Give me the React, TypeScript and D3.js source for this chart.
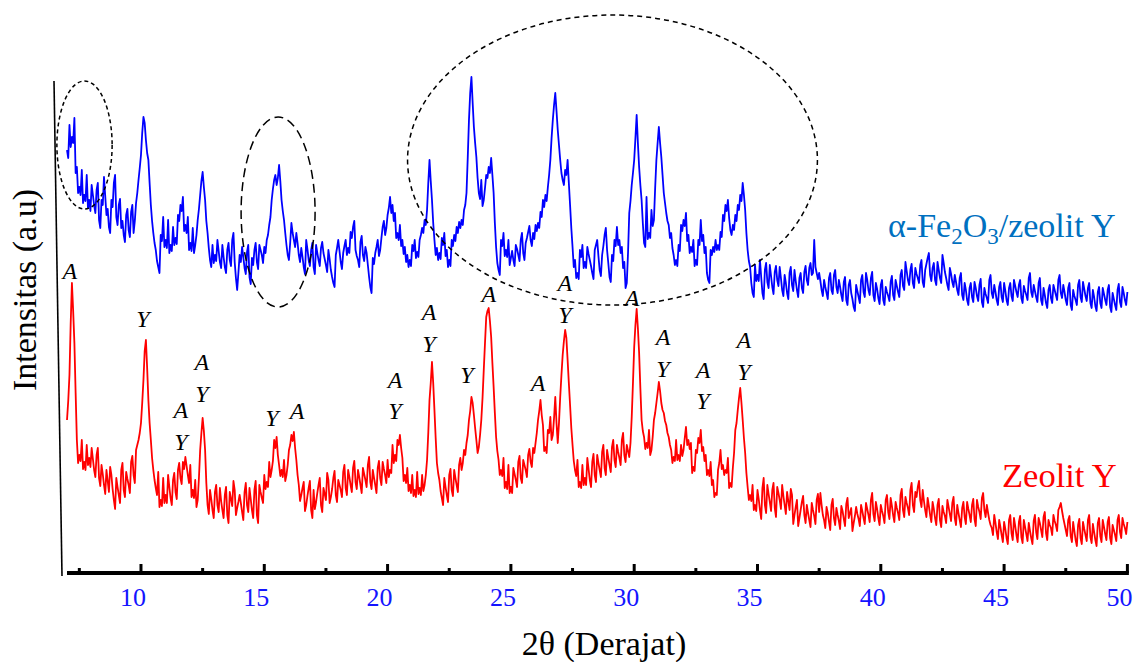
import React from 'react';
import * as d3 from 'd3';

// XRD scan grid (2θ, degrees): 7.00° to 50.00° in 0.05° steps
const scanStart = 7.0;
const scanStep = 0.05;

// Zeolit Y intensities (a.u.) read at 7.0, 7.1, ... 50.0
const zeolitY = [
  153,198,290,230,133,118,133,111,128,115,
  125,103,118,95,108,88,103,81,98,73,
  95,78,103,83,101,88,111,98,123,133,
  150,193,233,173,133,103,85,101,73,95,
  78,98,75,93,81,103,95,111,116,98,
  108,83,93,73,123,155,123,68,83,63,
  81,68,85,63,78,58,81,67,83,65,
  78,61,81,68,85,63,83,58,88,75,
  98,91,111,103,133,136,108,103,113,98,
  123,138,141,113,88,78,91,68,85,63,
  83,71,88,68,85,73,93,76,95,78,
  93,83,101,85,103,88,105,91,103,88,
  105,93,108,91,103,88,105,95,111,98,
  113,103,128,118,133,138,115,98,105,88,
  98,83,101,85,98,88,113,173,211,163,
  110,93,75,95,78,98,83,103,88,108,
  103,123,130,153,176,158,133,126,153,203,
  256,265,236,186,136,113,103,115,91,108,
  86,105,93,111,95,113,103,118,111,125,
  130,153,173,148,126,143,156,138,176,130,
  176,218,243,213,168,128,103,113,91,108,
  95,115,93,111,98,118,103,121,105,123,
  108,126,113,128,115,133,118,128,116,156,
  226,264,220,153,136,130,143,123,153,170,
  191,170,160,148,136,123,116,133,118,128,
  123,146,133,130,106,123,135,143,126,118,
  103,111,93,80,103,123,108,103,115,90,
  105,143,163,185,153,120,86,78,88,68,
  83,63,85,68,88,71,83,65,86,73,
  88,68,81,63,78,58,73,55,71,58,
  68,53,70,57,73,61,68,53,66,51,
  68,55,65,52,67,54,69,55,65,50,
  66,54,68,55,70,58,73,59,71,55,
  68,57,73,61,75,58,71,60,78,63,
  76,65,83,68,81,86,73,83,63,75,
  58,71,55,68,53,67,57,73,59,70,
  55,68,53,65,56,71,58,68,54,73,
  61,75,63,68,53,45,58,41,53,38,
  51,35,53,40,55,38,51,36,53,39,
  50,35,52,41,55,43,56,40,53,45,
  58,48,63,70,55,43,53,37,51,33,
  48,35,51,38,53,36,49,33,50,37,
  53,39,51,35,48,38,53,41,55,45,
  51,
];
// Zeolit Y intensities read at 7.05, 7.15, ... 49.95
const zeolitYMid = [
  172,250,262,180,110,112,104,103,108,106,
  114,96,125,87,99,79,92,106,84,64,
  86,70,110,76,94,80,117,90,128,140,
  170,222,205,150,115,93,78,66,67,70,
  70,86,68,100,74,110,89,104,107,90,
  76,75,66,95,140,142,90,59,74,55,
  88,61,72,55,86,50,74,92,58,71,
  70,53,90,61,74,55,92,50,81,70,
  84,86,96,112,125,118,97,96,92,108,
  128,132,125,98,72,85,62,77,92,55,
  64,80,95,61,79,100,70,84,102,71,
  88,76,108,78,96,81,112,84,96,80,
  99,86,116,84,95,80,112,88,104,90,
  96,100,110,112,128,125,92,90,82,80,
  77,76,79,78,82,98,140,190,190,135,
  100,82,68,86,71,104,77,95,81,115,
  110,118,138,162,170,145,120,138,175,230,
  262,252,210,160,122,98,97,85,84,80,
  80,99,86,117,90,108,96,124,106,120,
  140,162,158,122,120,140,133,155,150,150,
  198,232,235,190,145,112,97,86,85,88,
  88,104,86,119,91,110,96,128,98,115,
  101,133,106,121,108,140,111,122,130,190,
  248,245,185,142,124,125,118,136,160,180,
  182,163,152,140,128,110,112,113,112,117,
  135,128,124,100,102,120,130,122,112,98,
  97,88,76,78,110,104,98,100,85,86,
  120,150,175,170,135,100,73,72,63,62,
  74,54,95,60,79,62,90,56,80,64,
  77,59,72,84,49,66,47,63,77,50,
  60,46,63,49,79,80,58,45,60,43,
  74,48,58,44,62,47,75,60,42,57,
  59,47,62,49,64,51,80,52,64,48,
  62,50,78,54,67,51,65,53,84,56,
  70,58,90,61,76,92,66,72,56,67,
  51,64,48,74,46,61,50,66,52,76,
  48,60,46,71,49,64,51,74,47,66,
  54,80,56,60,48,38,50,34,46,31,
  44,29,58,33,47,31,57,30,46,32,
  42,29,58,34,50,36,61,33,48,38,
  52,42,66,62,49,37,57,31,42,27,
  54,29,44,32,58,30,41,27,55,31,
  46,33,56,29,43,32,58,35,49,39,
];

// α-Fe2O3/zeolit Y intensities (a.u.) read at 7.0, 7.1, ... 50.0
const feZeolitY = [
  423,448,436,455,406,386,403,378,398,373,
  388,368,383,353,373,396,358,346,373,390,
  356,368,345,338,358,343,361,340,370,393,
  418,456,433,413,368,340,323,306,338,356,
  333,353,328,346,335,358,368,376,348,356,
  330,345,328,353,378,401,373,340,313,328,
  318,333,311,328,306,323,313,333,311,283,
  318,326,305,321,296,315,323,311,328,318,
  326,333,348,373,393,388,408,373,353,328,
  313,350,333,340,318,325,306,333,313,323,
  306,328,313,325,320,308,323,303,290,318,
  333,311,320,333,325,341,346,323,313,331,
  318,326,308,286,315,320,333,323,346,338,
  358,376,368,360,340,348,333,326,318,313,
  328,333,321,333,345,353,363,413,373,333,
  325,320,335,340,323,313,333,338,346,351,
  353,363,380,453,496,446,416,380,393,373,
  398,406,415,380,326,303,333,340,323,333,
  315,313,328,318,333,320,330,341,333,340,
  348,350,361,373,378,386,413,453,480,443,
  413,393,403,413,368,326,313,300,323,328,
  311,326,313,300,323,333,303,318,338,323,
  296,318,333,346,333,326,311,290,360,388,
  413,458,406,373,330,376,340,363,353,413,
  446,416,380,360,348,340,318,313,328,348,
  353,360,338,326,333,313,333,353,338,326,
  293,323,326,333,328,341,358,368,373,343,
  348,358,368,378,390,363,323,306,280,308,
  298,313,280,303,291,308,286,301,293,306,
  283,298,280,300,288,303,283,295,285,301,
  293,305,298,333,300,300,283,293,280,295,
  283,298,286,293,278,291,273,288,280,266,
  288,276,293,281,300,283,295,278,290,275,
  288,273,286,277,291,278,293,281,298,287,
  311,293,303,290,305,295,308,291,303,315,
  298,305,293,311,295,318,301,288,305,291,
  298,283,295,278,290,273,285,276,291,277,
  288,271,285,275,293,280,288,273,286,276,
  290,273,285,277,293,281,288,275,287,278,
  295,281,288,276,290,273,285,270,283,275,
  288,278,293,280,288,273,285,268,283,273,
  288,276,291,277,285,270,283,267,281,270,
  285,273,283,266,280,268,283,271,286,273,
  281,
];
// α-Fe2O3/zeolit Y intensities read at 7.05, 7.15, ... 49.95
const feZeolitYMid = [
  415,426,430,400,380,378,370,372,365,362,
  378,360,390,345,368,377,364,340,366,398,
  348,374,352,331,364,336,368,352,380,405,
  440,450,420,390,352,330,312,300,332,326,
  325,320,322,328,329,352,362,342,340,323,
  322,320,338,364,392,386,352,325,306,310,
  312,322,305,316,300,330,307,340,295,300,
  311,316,299,328,289,308,330,304,323,310,
  320,338,356,384,398,395,392,362,340,318,
  330,340,326,330,311,316,299,324,307,330,
  299,320,307,331,314,301,314,296,286,325,
  322,304,327,318,320,335,352,317,306,337,
  312,320,296,280,309,326,317,335,352,345,
  365,360,352,335,333,327,319,311,306,307,
  322,315,316,338,340,348,390,392,350,318,
  313,314,328,317,306,307,327,332,340,345,
  348,368,415,480,470,430,395,374,367,385,
  395,400,398,350,310,298,327,317,316,308,
  322,307,324,312,340,313,335,347,327,334,
  342,345,356,366,372,398,435,468,462,428,
  400,388,398,390,345,306,295,294,316,305,
  305,319,307,294,328,317,297,327,345,310,
  291,312,327,328,320,305,285,320,372,400,
  435,430,388,350,326,334,335,347,385,430,
  430,398,370,352,335,325,308,307,322,342,
  347,332,320,321,307,308,328,332,320,300,
  290,318,321,323,323,336,352,362,355,338,
  343,352,363,372,378,340,312,290,276,292,
  292,296,274,310,285,297,279,307,287,295,
  277,290,274,306,282,292,276,300,280,307,
  288,310,300,306,294,292,277,286,274,300,
  279,303,280,286,272,296,268,293,274,262,
  282,270,298,276,293,278,301,272,284,269,
  293,268,281,272,297,273,287,276,303,283,
  302,288,309,285,299,290,313,286,309,320,
  292,310,288,303,290,310,295,283,299,286,
  291,278,300,273,283,268,290,271,285,272,
  294,266,279,270,298,275,281,268,291,271,
  282,268,290,272,287,276,293,270,282,273,
  300,276,282,271,295,268,278,265,288,270,
  283,273,298,275,281,268,290,263,277,268,
  293,271,284,272,290,265,276,262,286,265,
  279,268,288,261,274,263,289,266,280,268,
];

const majorTicks = [10, 15, 20, 25, 30, 35, 40, 45, 50];
const minorTicks = [7.5, 12.5, 17.5, 22.5, 27.5, 32.5, 37.5, 42.5, 47.5];

// phase labels: 2θ, intensity of text baseline, letter
const labelAngles = [7.12, 10.08, 11.62, 11.62, 12.47, 12.47, 15.31, 16.33, 20.3, 20.3, 21.68, 21.68, 23.22, 24.11, 26.1, 27.19, 27.19, 29.91, 31.17, 31.17, 32.79, 32.79, 34.45, 34.45];
const labelLevels = [294, 246, 155, 123, 203, 171, 147, 154, 185, 154, 253, 221, 190, 271, 182, 282, 250, 267, 228, 196, 195, 164, 225, 193];
const labelTexts = ['A', 'Y', 'A', 'Y', 'A', 'Y', 'Y', 'A', 'A', 'Y', 'A', 'Y', 'Y', 'A', 'A', 'A', 'Y', 'A', 'A', 'Y', 'A', 'Y', 'A', 'Y'];

// dashed highlight ellipses: centre (2θ, intensity), radii (deg, intensity)
const ellipseCentreAngle = [7.71, 15.56, 29.12];
const ellipseCentreLevel = [428, 361, 413];
const ellipseRadiusAngle = [1.12, 1.5, 8.31];
const ellipseRadiusLevel = [64, 95, 145];
const ellipseDash = ['4,3', '9,5', '5,4'];

function interleave(main: number[], mid: number[]): number[] {
  const out: number[] = [];
  main.forEach((v, i) => {
    out.push(v);
    if (i < mid.length) out.push(mid[i]);
  });
  return out;
}

export default function App() {
  const W = 1137;
  const H = 662;
  const x = d3.scaleLinear().domain([7, 50]).range([67, 1127.4]);
  const y = d3.scaleLinear().domain([0, 500]).range([573, 73]);

  const red = interleave(zeolitY, zeolitYMid);
  const blue = interleave(feZeolitY, feZeolitYMid);
  const grid = red.map((_, i) => +(scanStart + i * scanStep).toFixed(2));
  const line = d3
    .line<number>()
    .x((_, i) => x(grid[i]))
    .y((d) => y(d));

  const serif = "'Liberation Serif', 'Times New Roman', serif";

  return (
    <svg
      width={W}
      height={H}
      style={{ position: 'absolute', left: 0, top: 0, display: 'block', background: '#fff' }}
      fontFamily={serif}
    >
      {/* y axis (slanted thin line) */}
      <line x1={54} y1={81} x2={62} y2={576} stroke="#000" strokeWidth={1.6} />

      {/* curves */}
      <path d={line(red) || ''} fill="none" stroke="#ff0000" strokeWidth={1.8} strokeLinejoin="round" />
      <path d={line(blue) || ''} fill="none" stroke="#0000ff" strokeWidth={1.8} strokeLinejoin="round" />

      {/* ellipses */}
      {ellipseCentreAngle.map((t, i) => (
        <ellipse
          key={'e' + i}
          cx={x(t)}
          cy={y(ellipseCentreLevel[i])}
          rx={x(t + ellipseRadiusAngle[i]) - x(t)}
          ry={y(0) - y(ellipseRadiusLevel[i])}
          fill="none"
          stroke="#000"
          strokeWidth={1.5}
          strokeDasharray={ellipseDash[i]}
        />
      ))}

      {/* phase labels */}
      {labelAngles.map((t, i) => (
        <text
          key={'l' + i}
          x={x(t)}
          y={y(labelLevels[i])}
          textAnchor="middle"
          fontStyle="italic"
          fontSize={24}
          fill="#000"
        >
          {labelTexts[i]}
        </text>
      ))}

      {/* x axis */}
      <line x1={x(7)} y1={573} x2={x(50) + 1.5} y2={573} stroke="#000" strokeWidth={4} />
      {majorTicks.map((t) => (
        <line key={'M' + t} x1={x(t)} x2={x(t)} y1={573} y2={564} stroke="#000" strokeWidth={3} />
      ))}
      {minorTicks.map((t) => (
        <line key={'m' + t} x1={x(t)} x2={x(t)} y1={573} y2={568} stroke="#000" strokeWidth={3} />
      ))}
      {majorTicks.map((t) => (
        <text key={'T' + t} x={x(t) - 8} y={606} textAnchor="middle" fontSize={26} fill="#1414ff">
          {t}
        </text>
      ))}

      {/* axis titles */}
      <text x={604} y={655} textAnchor="middle" fontSize={34} fill="#000">
        2θ (Derajat)
      </text>
      <text transform="translate(36,290) rotate(-90)" textAnchor="middle" fontSize={34} fill="#000">
        Intensitas (a.u)
      </text>

      {/* series names */}
      <text x={888} y={237} fontSize={34} fill="#0070c0">
        α-Fe
        <tspan fontSize={23} dy={7}>2</tspan>
        <tspan dy={-7}>O</tspan>
        <tspan fontSize={23} dy={7}>3</tspan>
        <tspan dy={-7}>/zeolit Y</tspan>
      </text>
      <text x={1002} y={487} fontSize={34.5} fill="#ff0000">
        Zeolit Y
      </text>
    </svg>
  );
}
